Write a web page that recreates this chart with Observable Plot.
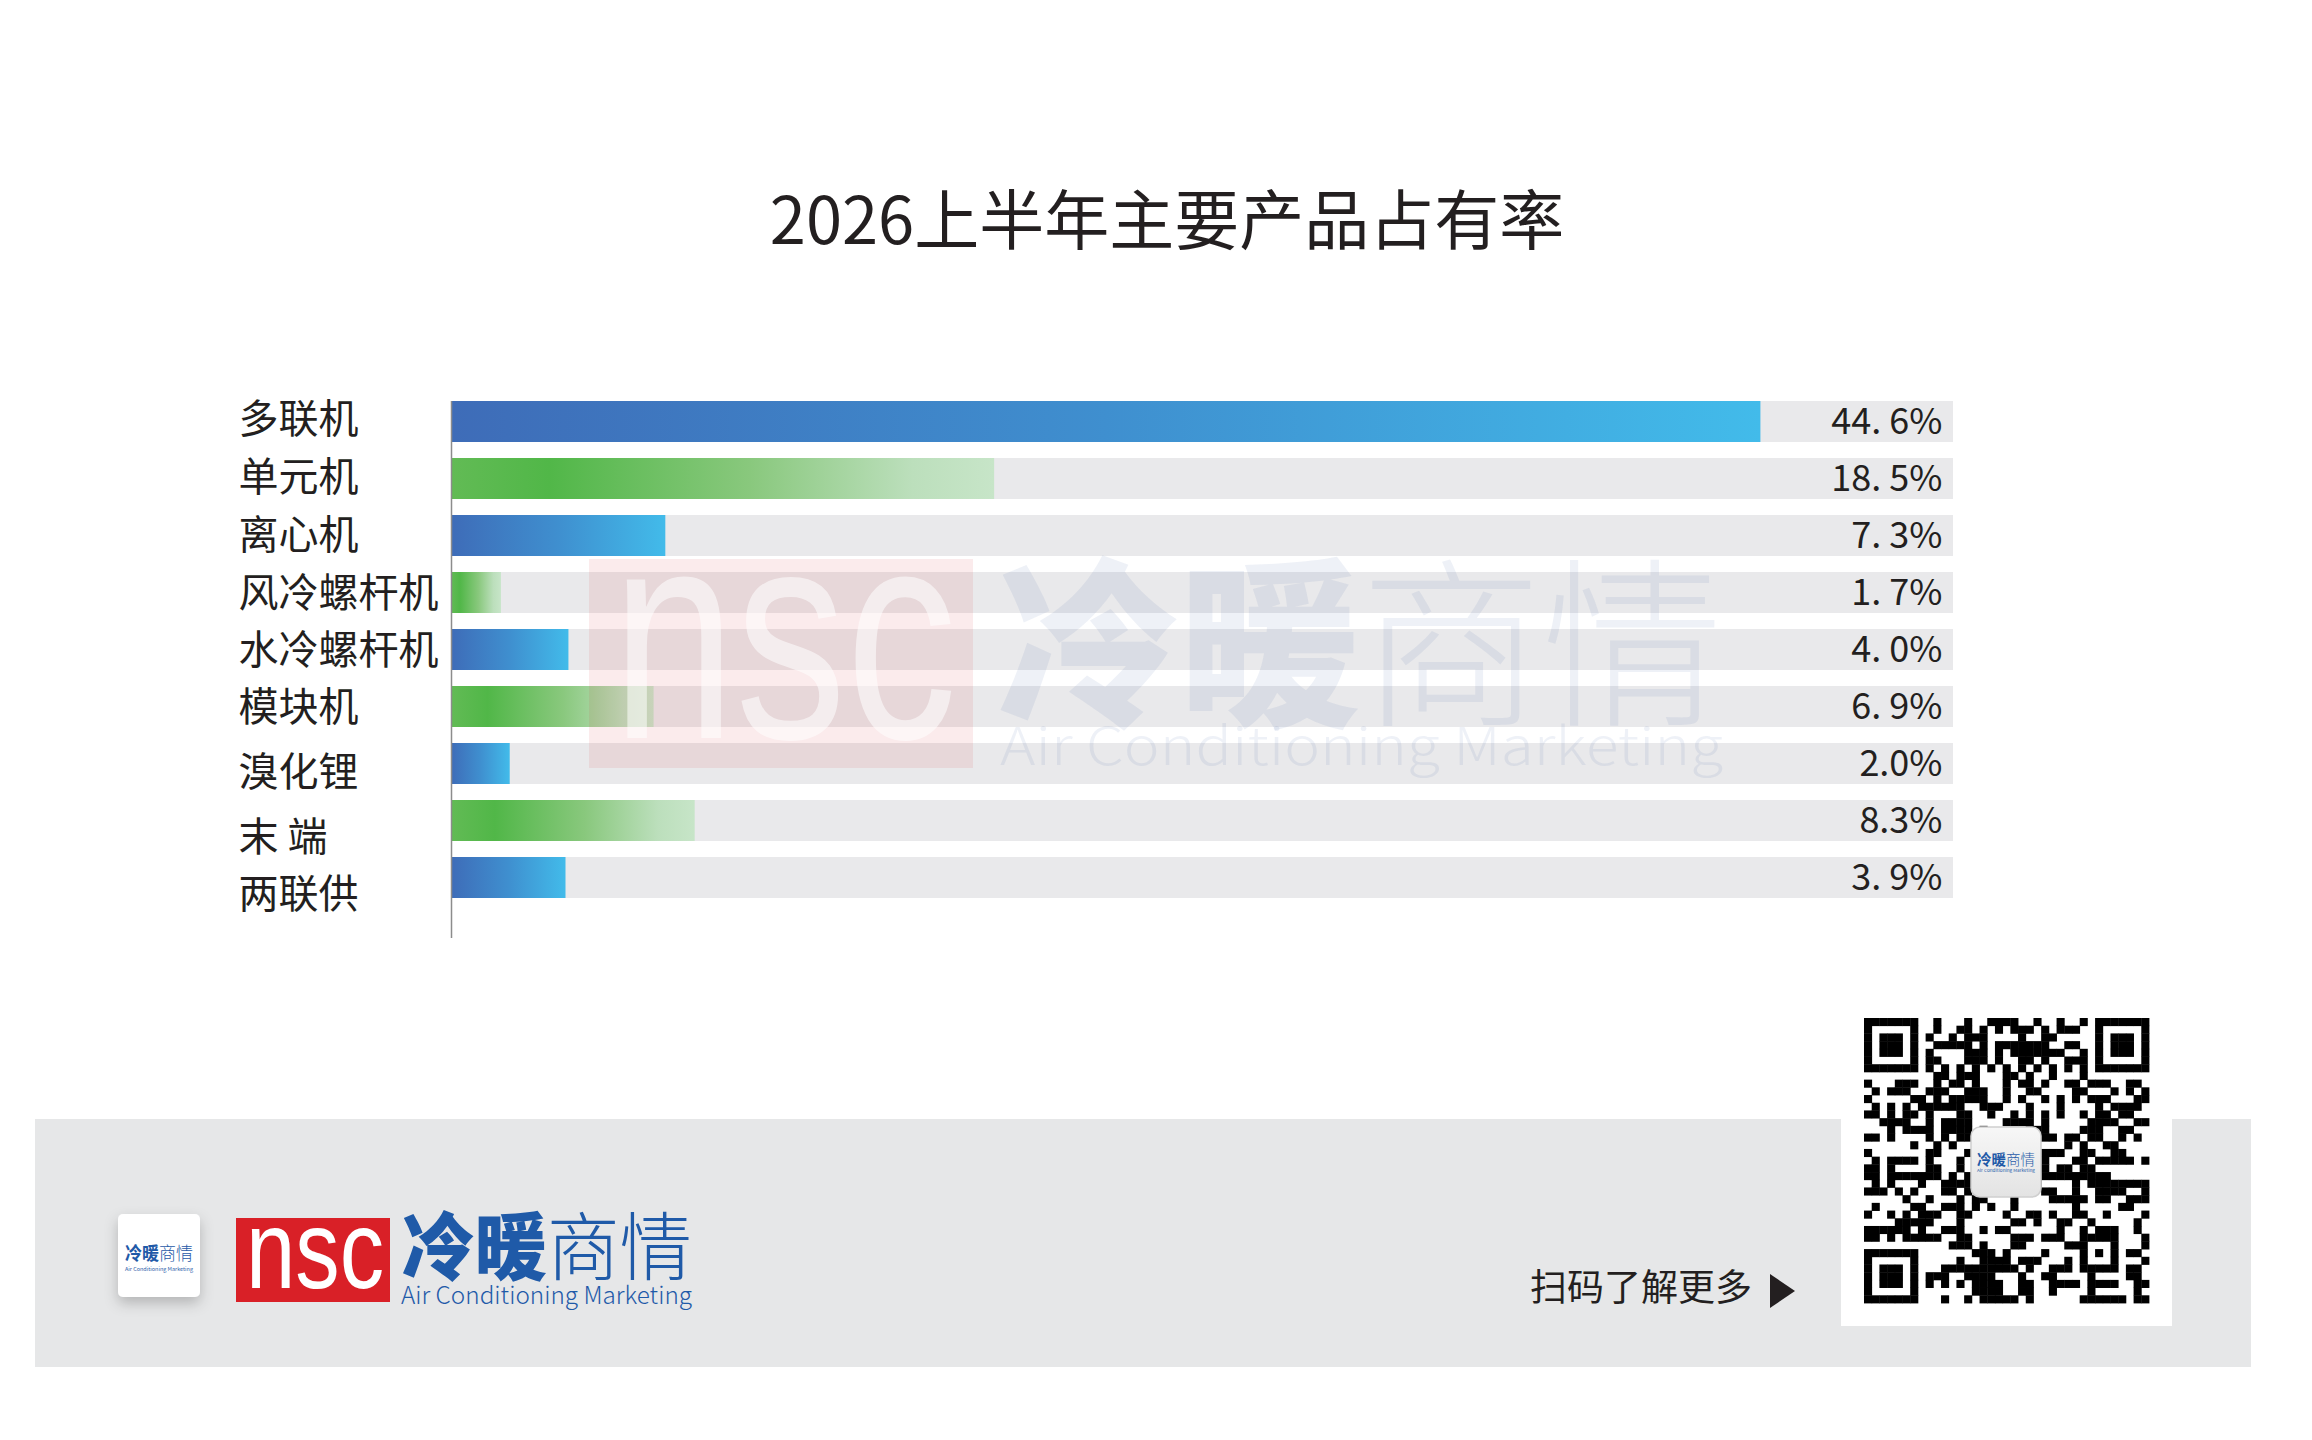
<!DOCTYPE html>
<html>
<head>
<meta charset="utf-8">
<script src="https://cdn.jsdelivr.net/npm/d3@7"></script>
<script src="https://cdn.jsdelivr.net/npm/@observablehq/plot@0.6"></script>
<style>
  html, body { margin: 0; padding: 0; background: #fff; }
  #page { position: relative; width: 2312px; height: 1440px; overflow: hidden; background: #fff;
          font-family: "Noto Sans CJK SC", sans-serif; }
  #deco, #chart, #watermark { position: absolute; left: 0; top: 0; }
  #watermark { pointer-events: none; }
  #title { position: absolute; left: 1167px; top: 216px; transform: translate(-50%, -50%);
           font-size: 65px; color: #231f20; white-space: nowrap; line-height: 1; }
</style>
</head>
<body>
<div id="page">
  <svg id="deco" width="2312" height="1440" xmlns="http://www.w3.org/2000/svg"></svg>
  <div id="chart"></div>
  <svg id="watermark" width="2312" height="1440" xmlns="http://www.w3.org/2000/svg"></svg>
  <div id="title">2026上半年主要产品占有率</div>
</div>
<script>
// ---------- data ----------
const categories = ["多联机", "单元机", "离心机", "风冷螺杆机", "水冷螺杆机", "模块机", "溴化锂", "末 端", "两联供"];
const shares = [44.6, 18.5, 7.3, 1.7, 4.0, 6.9, 2.0, 8.3, 3.9];
const valueLabels = ["44. 6%", "18. 5%", "7. 3%", "1. 7%", "4. 0%", "6. 9%", "2.0%", "8.3%", "3. 9%"];
const colorGroups = ["blue", "green", "blue", "green", "blue", "green", "blue", "green", "blue"];
const trackMax = 51.16;

// ---------- layout (not data) ----------
const labelNudge = [-2, -1, 0, 1, 1, 1, 9, 17, 17];
const ink = "#231f20";
const numFont = '"Liberation Sans Narrow", "Noto Sans CJK SC", sans-serif';
const cjkFont = '"Noto Sans CJK SC", sans-serif';

const rows = categories.map((c, i) => ({category: c, share: shares[i], label: valueLabels[i], group: colorGroups[i]}));

const NS = "http://www.w3.org/2000/svg";
const gradientDefs = () => {
  const g = document.createElementNS(NS, "defs");
  g.innerHTML = `
    <linearGradient id="gBlue" x1="0" x2="1" y1="0" y2="0">
      <stop offset="0" stop-color="#3e6cb8"/>
      <stop offset="0.5" stop-color="#3f8fcf"/>
      <stop offset="1" stop-color="#42bbea"/>
    </linearGradient>
    <linearGradient id="gGreen" x1="0" x2="1" y1="0" y2="0">
      <stop offset="0" stop-color="#62bb55"/>
      <stop offset="0.18" stop-color="#51b748"/>
      <stop offset="0.55" stop-color="#89c87d"/>
      <stop offset="0.85" stop-color="#bcdfbc"/>
      <stop offset="1" stop-color="#c7e5c8"/>
    </linearGradient>`;
  return g;
};

const chart = Plot.plot({
  width: 2312,
  height: 980,
  marginTop: 401,
  marginBottom: 42,
  marginLeft: 451,
  marginRight: 359,
  style: {background: "transparent", overflow: "visible", fontFamily: cjkFont},
  x: {domain: [0, trackMax], axis: null},
  y: {domain: categories, paddingInner: 0.273, paddingOuter: 0.29, align: 0, axis: null},
  marks: [
    gradientDefs,
    Plot.barX(rows, {y: "category", x1: 0, x2: trackMax, fill: "#e9e9eb", inset: 0}),
    Plot.barX(rows.filter(d => d.group === "blue"), {y: "category", x: "share", fill: "url(#gBlue)", inset: 0}),
    Plot.barX(rows.filter(d => d.group === "green"), {y: "category", x: "share", fill: "url(#gGreen)", inset: 0}),
    Plot.ruleX([0], {stroke: "#8c8c8c", strokeWidth: 1.5}),
    Plot.text(rows, {y: "category", x: trackMax, text: "label", textAnchor: "end", dx: -11,
                     fontSize: 36, fontFamily: numFont, fill: ink}),
    ...rows.map((r, i) => Plot.text([r], {y: "category", frameAnchor: "left", dx: -213, dy: labelNudge[i],
                     text: "category", textAnchor: "start", fontSize: 40, fontFamily: cjkFont, fill: ink}))
  ]
});
document.getElementById("chart").appendChild(chart);

// ---------- footer decoration ----------
function qrSvg(x0, y0, size, n) {
  const m = size / n;
  const on = Array.from({length: n}, () => new Array(n).fill(null));
  const finder = (r0, c0) => {
    for (let r = -1; r <= 7; r++) for (let c = -1; c <= 7; c++) {
      const rr = r0 + r, cc = c0 + c;
      if (rr < 0 || cc < 0 || rr >= n || cc >= n) continue;
      const ring = Math.max(Math.abs(r - 3), Math.abs(c - 3));
      on[rr][cc] = (ring === 3 || ring <= 1);
      if (r < 0 || c < 0 || r > 6 || c > 6) on[rr][cc] = false;
    }
  };
  finder(0, 0); finder(0, n - 7); finder(n - 7, 0);
  for (let r = n - 9; r <= n - 5; r++) for (let c = n - 9; c <= n - 5; c++) {
    const ring = Math.max(Math.abs(r - (n - 7)), Math.abs(c - (n - 7)));
    on[r][c] = ring !== 1;
  }
  for (let i = 8; i < n - 8; i++) { on[6][i] = i % 2 === 0; on[i][6] = i % 2 === 0; }
  let s = "";
  for (let r = 0; r < n; r++) for (let c = 0; c < n; c++) {
    let v = on[r][c];
    if (v === null) {
      const h = Math.imul(r * 131 + 7, 0x9E3779B1) ^ Math.imul(c * 313 + 11, 0x85EBCA77);
      v = ((Math.imul(h ^ (h >>> 15), 0x2C1B3C6D) >>> 0) % 100) < 50;
    }
    if (v) s += `<rect x="${(x0 + c * m).toFixed(2)}" y="${(y0 + r * m).toFixed(2)}" width="${(m + 0.4).toFixed(2)}" height="${(m + 0.4).toFixed(2)}"/>`;
  }
  return `<g fill="#000">${s}</g>`;
}

const blue = "#1f5aa8";
document.getElementById("deco").innerHTML = `
  <defs>
    <filter id="shadow" x="-40%" y="-40%" width="180%" height="180%">
      <feDropShadow dx="0" dy="6" stdDeviation="7" flood-color="#000" flood-opacity="0.22"/>
    </filter>
    <linearGradient id="logoBg" x1="0" y1="0" x2="0" y2="1">
      <stop offset="0" stop-color="#f7f7f7"/><stop offset="1" stop-color="#e3e3e3"/>
    </linearGradient>
  </defs>
  <rect x="35" y="1119" width="2216" height="248" fill="#e6e7e8"/>
  <rect x="118" y="1214" width="82" height="83" rx="5" fill="#fff" filter="url(#shadow)"/>
  <text x="125" y="1260" font-size="18" fill="${blue}" textLength="68" lengthAdjust="spacingAndGlyphs" font-family='${cjkFont}'><tspan font-weight="700">冷暖</tspan><tspan font-weight="300">商情</tspan></text>
  <text x="125" y="1271" font-size="5" fill="${blue}" textLength="68" lengthAdjust="spacingAndGlyphs" font-family='${cjkFont}'>Air Conditioning Marketing</text>
  <rect x="236" y="1218" width="154" height="84" fill="#d92027"/>
  <text x="246" y="1288" font-size="112" fill="#fff" textLength="138" lengthAdjust="spacingAndGlyphs" font-family='"Liberation Sans", sans-serif'>nsc</text>
  <text x="402" y="1274" font-size="74" fill="${blue}" textLength="290" lengthAdjust="spacingAndGlyphs" font-family='${cjkFont}'><tspan font-weight="900">冷暖</tspan><tspan font-weight="300">商情</tspan></text>
  <text x="401" y="1304" font-size="24" fill="${blue}" textLength="291" lengthAdjust="spacingAndGlyphs" font-weight="300" font-family='${cjkFont}'>Air Conditioning Marketing</text>
  <text x="1530" y="1301" font-size="37" fill="${ink}" font-family='${cjkFont}'>扫码了解更多</text>
  <polygon points="1770,1274 1795,1291 1770,1308" fill="${ink}"/>
  <rect x="1841" y="995" width="331" height="331" fill="#fff"/>
  ${qrSvg(1864, 1018, 285, 37)}
  <rect x="1971" y="1127" width="70" height="70" rx="9" fill="url(#logoBg)" stroke="#cfcfcf" stroke-width="1.5"/>
  <text x="1977" y="1165" font-size="15" fill="${blue}" textLength="58" lengthAdjust="spacingAndGlyphs" font-family='${cjkFont}'><tspan font-weight="700">冷暖</tspan><tspan font-weight="300">商情</tspan></text>
  <text x="1977" y="1172" font-size="4" fill="${blue}" textLength="58" lengthAdjust="spacingAndGlyphs" font-family='${cjkFont}'>Air Conditioning Marketing</text>
`;

// ---------- watermark ----------
document.getElementById("watermark").innerHTML = `
  <rect x="589" y="559" width="384" height="209" fill="rgba(214,30,45,0.09)"/>
  <text x="612" y="738" font-size="300" fill="rgba(255,255,255,0.55)" textLength="345" lengthAdjust="spacingAndGlyphs" font-family='"Liberation Sans", sans-serif'>nsc</text>
  <text x="998" y="712" font-size="182" fill="rgba(40,80,150,0.08)" textLength="725" lengthAdjust="spacingAndGlyphs" font-family='${cjkFont}'><tspan font-weight="900">冷暖</tspan><tspan font-weight="300">商情</tspan></text>
  <text x="1000" y="765" font-size="52" fill="rgba(40,80,150,0.08)" textLength="723" lengthAdjust="spacingAndGlyphs" font-weight="300" font-family='${cjkFont}'>Air Conditioning Marketing</text>
`;
</script>
</body>
</html>
